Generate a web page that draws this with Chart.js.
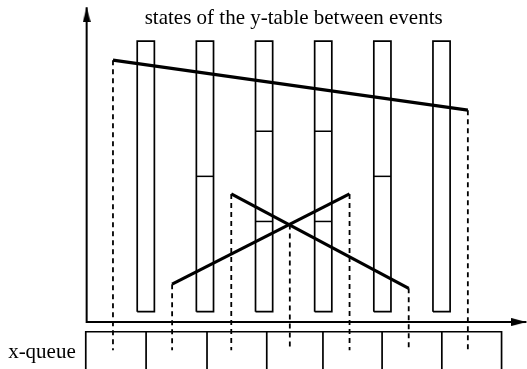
<!DOCTYPE html>
<html>
<head>
<meta charset="utf-8">
<script src="https://cdn.jsdelivr.net/npm/chart.js@4/dist/chart.umd.min.js"></script>
<style>
  html, body { margin: 0; padding: 0; background: #fff; }
  #wrap { width: 527px; height: 369px; }
</style>
</head>
<body>
<div id="wrap"><canvas id="sweepChart"></canvas></div>
<script>
// segments of the sweep, x = event index, y = key
const segmentX = [[0, 6], [1, 4], [2, 5]];
const segmentY = [[9.32, 7.54], [1.35, 4.56], [4.56, 1.2]];

// events: segment ends and the crossing
const eventX = [0, 1, 2, 2.99, 4, 5, 6];
const eventY = [9.32, 1.35, 4.56, 3.47, 4.56, 1.2, 7.54];

// number of segments held in the y-table between two events
const activeCounts = [1, 2, 3, 3, 2, 1];

// cell borders of the x-queue
const queueEdges = [-0.46, 0.56, 1.59, 2.6, 3.55, 4.55, 5.56, 6.57];

const titleText = 'states of the y-table between events';
const queueText = 'x-queue';

// layout
const X_MIN = -1.91, X_MAX = 7.0;
const Y_MIN = -1.67, Y_MAX = 11.46;
const AXIS_X = -0.445, AXIS_END_X = 6.99, AXIS_END_Y = 11.2;
const TABLE_TOP = 10, TABLE_BOTTOM = 0.37;
const COL_OFFSET = 0.41, COL_WIDTH = 0.29;
const DASH_BOTTOM = -1.0;
const QUEUE_TOP = -0.345, QUEUE_BOTTOM = -2.5;
const TITLE_Y = 10.6, QUEUE_LABEL_Y = -1.27;

function line(points, width, dash) {
  return {
    data: points,
    showLine: true,
    borderColor: '#000',
    borderWidth: width,
    borderDash: dash || [],
    pointRadius: 0,
    pointHoverRadius: 0,
    clip: false
  };
}

// arrow head, tip sits in the middle so it lands on the axis end
function arrowHead() {
  const c = document.createElement('canvas');
  c.width = 8;
  c.height = 30;
  const g = c.getContext('2d');
  g.fillStyle = '#000';
  g.beginPath();
  g.moveTo(4, 15);
  g.lineTo(8, 30);
  g.lineTo(0, 30);
  g.closePath();
  g.fill();
  return c;
}

const datasets = [];

// axes
datasets.push(line([{x: AXIS_X, y: AXIS_END_Y}, {x: AXIS_X, y: 0}, {x: AXIS_END_X, y: 0}], 2));
datasets.push({
  data: [{x: AXIS_X, y: AXIS_END_Y}, {x: AXIS_END_X, y: 0}],
  showLine: false,
  pointStyle: arrowHead(),
  pointRotation: [0, 90],
  pointRadius: 1,
  pointHoverRadius: 1,
  clip: false
});

// y-table columns with one cell per active segment
activeCounts.forEach(function (n, k) {
  const l = k + COL_OFFSET, r = l + COL_WIDTH;
  datasets.push(line([
    {x: l, y: TABLE_BOTTOM}, {x: l, y: TABLE_TOP}, {x: r, y: TABLE_TOP},
    {x: r, y: TABLE_BOTTOM}, {x: l, y: TABLE_BOTTOM}
  ], 1.7));
  for (let j = 1; j < n; j++) {
    const yy = TABLE_TOP - (TABLE_TOP - TABLE_BOTTOM) * j / n;
    datasets.push(line([{x: l, y: yy}, {x: r, y: yy}], 1.5));
  }
});

// events dropped into the queue
eventX.forEach(function (ex, i) {
  datasets.push(line([{x: ex, y: eventY[i]}, {x: ex, y: DASH_BOTTOM}], 1.8, [5, 4]));
});

// segments
segmentX.forEach(function (xs, i) {
  datasets.push(line([{x: xs[0], y: segmentY[i][0]}, {x: xs[1], y: segmentY[i][1]}], 3.2));
});

// x-queue
datasets.push(line([
  {x: queueEdges[0], y: QUEUE_BOTTOM}, {x: queueEdges[0], y: QUEUE_TOP},
  {x: queueEdges[queueEdges.length - 1], y: QUEUE_TOP},
  {x: queueEdges[queueEdges.length - 1], y: QUEUE_BOTTOM}
], 1.7));
queueEdges.slice(1, -1).forEach(function (qx) {
  datasets.push(line([{x: qx, y: QUEUE_TOP}, {x: qx, y: QUEUE_BOTTOM}], 1.7));
});

const textPlugin = {
  id: 'diagramText',
  afterDatasetsDraw(chart) {
    const ctx = chart.ctx;
    const sx = chart.scales.x, sy = chart.scales.y;
    ctx.save();
    ctx.fillStyle = '#000';
    ctx.font = '21px "Liberation Serif", serif';
    ctx.textBaseline = 'alphabetic';
    ctx.textAlign = 'center';
    const mid = (COL_OFFSET + activeCounts.length - 1 + COL_OFFSET + COL_WIDTH) / 2;
    ctx.fillText(titleText, sx.getPixelForValue(mid), sy.getPixelForValue(TITLE_Y));
    ctx.textAlign = 'right';
    ctx.fillText(queueText, sx.getPixelForValue(queueEdges[0]) - 10, sy.getPixelForValue(QUEUE_LABEL_Y));
    ctx.restore();
  }
};

const ctx = document.getElementById('sweepChart').getContext('2d');
const myChart = new Chart(ctx, {
  type: 'scatter',
  data: { datasets: datasets },
  options: {
    responsive: true,
    maintainAspectRatio: false,
    animation: false,
    events: [],
    layout: { autoPadding: false, padding: 0 },
    plugins: {
      legend: { display: false },
      tooltip: { enabled: false },
      title: { display: false }
    },
    scales: {
      x: { type: 'linear', min: X_MIN, max: X_MAX, display: false },
      y: { type: 'linear', min: Y_MIN, max: Y_MAX, display: false }
    }
  },
  plugins: [textPlugin]
});
</script>
</body>
</html>
